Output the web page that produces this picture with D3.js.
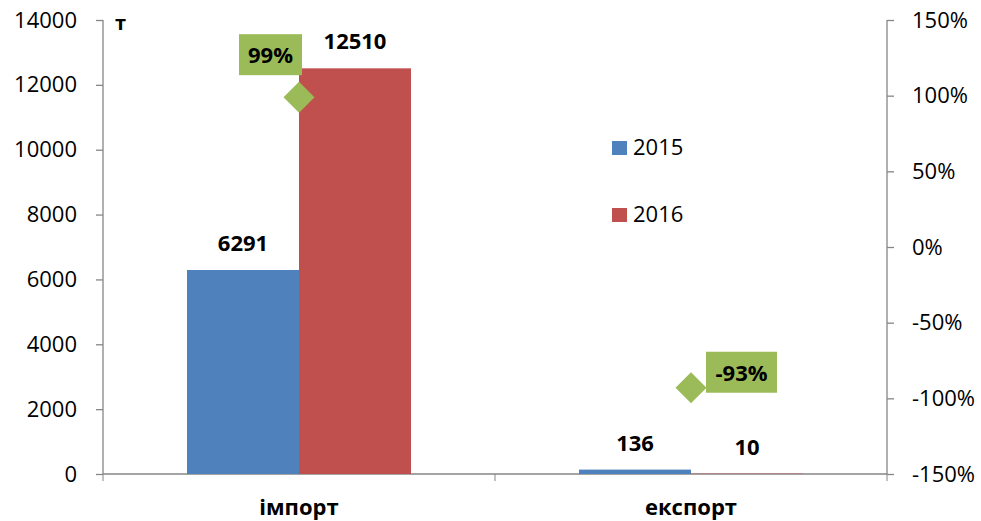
<!DOCTYPE html>
<html>
<head>
<meta charset="utf-8">
<script src="https://cdn.jsdelivr.net/npm/d3@7"></script>
<style>
  body { margin: 0; background: #fff; }
  svg text { font-family: "Open Sans", sans-serif; fill: #000; }
</style>
</head>
<body>
<script>
// chart data
var categories = ["імпорт", "експорт"];
var years = ["2015", "2016"];
var values2015 = [6291, 136];
var values2016 = [12510, 10];
var changePct = [99, -93];
var leftTicks = [0, 2000, 4000, 6000, 8000, 10000, 12000, 14000];
var rightTicks = [-150, -100, -50, 0, 50, 100, 150];

var svgWidth = 981;
var svgHeight = 521;
var colors = ["#4F81BD", "#C0504D"];
var green = "#9BBB59";
var axisColor = "#868686";
var fontSize = "22px";

var svg = d3.select("body")
  .append("svg")
  .attr("width", svgWidth)
  .attr("height", svgHeight);

var plot = { left: 103, right: 887, top: 20, bottom: 474 };

// scales
var x = d3.scaleBand()
  .domain(categories)
  .range([plot.left, plot.right]);
var xInner = d3.scaleBand()
  .domain(years)
  .range([0, x.bandwidth()])
  .paddingOuter(0.75);
var y = d3.scaleLinear()
  .domain([0, 14000])
  .range([plot.bottom, plot.top]);
var yPct = d3.scaleLinear()
  .domain([-150, 150])
  .range([plot.bottom, plot.top]);

// left axis
var yAxis = svg.append("g")
  .attr("transform", `translate(${plot.left},0)`)
  .call(d3.axisLeft(y).tickValues(leftTicks).tickSize(7).tickPadding(19).tickFormat(d3.format("d")));

// right axis
var yAxisR = svg.append("g")
  .attr("transform", `translate(${plot.right},0)`)
  .call(d3.axisRight(yPct).tickValues(rightTicks).tickSize(7).tickPadding(18).tickFormat(d => d + "%"));

// bottom axis with category separators
var xAxis = svg.append("g")
  .attr("transform", `translate(0,${plot.bottom})`)
  .call(d3.axisBottom(x).tickSize(0).tickPadding(25));
xAxis.selectAll(".tick text")
  .style("font-weight", "bold")
  .style("font-size", fontSize);
xAxis.selectAll(".sep")
  .data([plot.left].concat(categories.map(c => x(c) + x.bandwidth())))
  .enter()
  .append("line")
  .attr("class", "sep")
  .attr("x1", d => d).attr("x2", d => d)
  .attr("y1", 0).attr("y2", 7)
  .attr("stroke", axisColor);

[yAxis, yAxisR, xAxis].forEach(function(g) {
  g.select(".domain").attr("stroke", axisColor).attr("stroke-width", 1.3);
  g.selectAll(".tick line").attr("stroke", axisColor).attr("stroke-width", 1.3);
});
[yAxis, yAxisR].forEach(function(g) {
  g.selectAll(".tick text").style("font-size", fontSize);
});
yAxis.select(".domain").attr("d", `M0,${plot.bottom}V${plot.top}`);
yAxisR.select(".domain").attr("d", `M0,${plot.bottom}V${plot.top}`);
xAxis.select(".domain").attr("d", `M${plot.left},0H${plot.right}`);

// bars
var series = [values2015, values2016];
series.forEach(function(vals, si) {
  var g = svg.append("g");
  g.selectAll("rect")
    .data(vals)
    .enter()
    .append("rect")
    .attr("x", (d, i) => x(categories[i]) + xInner(years[si]))
    .attr("width", xInner.bandwidth())
    .attr("y", d => y(d))
    .attr("height", d => y(0) - y(d))
    .attr("fill", colors[si]);
  g.selectAll("text")
    .data(vals)
    .enter()
    .append("text")
    .attr("x", (d, i) => x(categories[i]) + xInner(years[si]) + xInner.bandwidth() / 2)
    .attr("y", d => y(d) - 19)
    .attr("text-anchor", "middle")
    .style("font-weight", "bold")
    .style("font-size", fontSize)
    .text(d => d);
});

// percentage change markers
var px = (d, i) => x(categories[i]) + x.bandwidth() / 2;
svg.append("g")
  .selectAll("path")
  .data(changePct)
  .enter()
  .append("path")
  .attr("d", d3.symbol().type(d3.symbolSquare).size(480))
  .attr("transform", (d, i) => `translate(${px(d, i)},${yPct(d)}) rotate(45)`)
  .attr("fill", green);

var labelOffsets = [{ dx: -60, dy: -63 }, { dx: 15, dy: -36 }];
var labelSizes = [{ w: 63, h: 41 }, { w: 71, h: 41 }];
var pl = svg.append("g")
  .selectAll("g")
  .data(changePct)
  .enter()
  .append("g")
  .attr("transform", (d, i) => `translate(${px(d, i) + labelOffsets[i].dx},${yPct(d) + labelOffsets[i].dy})`);
pl.append("rect")
  .attr("width", (d, i) => labelSizes[i].w)
  .attr("height", (d, i) => labelSizes[i].h)
  .attr("fill", green);
pl.append("text")
  .attr("x", (d, i) => labelSizes[i].w / 2)
  .attr("y", 29)
  .attr("text-anchor", "middle")
  .style("font-weight", "bold")
  .style("font-size", fontSize)
  .text(d => d + "%");

// legend
var legend = svg.append("g")
  .selectAll("g")
  .data(years)
  .enter()
  .append("g")
  .attr("transform", (d, i) => `translate(612,${141 + i * 67})`);
legend.append("rect")
  .attr("width", 15)
  .attr("height", 14)
  .attr("fill", (d, i) => colors[i]);
legend.append("text")
  .attr("x", 21)
  .attr("y", 14)
  .style("font-size", fontSize)
  .text(d => d);

// unit label
svg.append("text")
  .attr("x", 115)
  .attr("y", 30)
  .style("font-weight", "bold")
  .style("font-size", "20px")
  .text("т");
</script>
</body>
</html>
